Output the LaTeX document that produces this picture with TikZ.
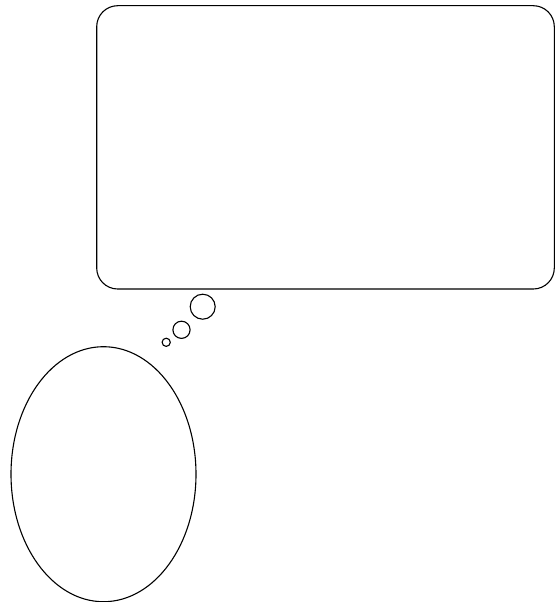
\documentclass[tikz,border=0pt]{standalone}
\usepackage{tikz}
\usetikzlibrary{positioning, calc}

\begin{document}
\begin{tikzpicture}[x=1pt, y=-1pt, line width=1.1pt]

    % Marco de la imagen
    \useasboundingbox (0,0) rectangle (559,602);

    % Globo de pensamiento (rectangulo redondeado)
    \draw[rounded corners=21pt] (96.7,5.7) rectangle (554.3,289);

    % Burbujas pequenas
    \draw (202.7,306.7) circle (12.5);
    \draw (181.5,329.8) circle (8.6);
    \draw (166.2,342.3) circle (4.1);

    % Cabeza (elipse)
    \draw (103.5,474.2) ellipse (92.5 and 127.5);

\end{tikzpicture}
\end{document}
